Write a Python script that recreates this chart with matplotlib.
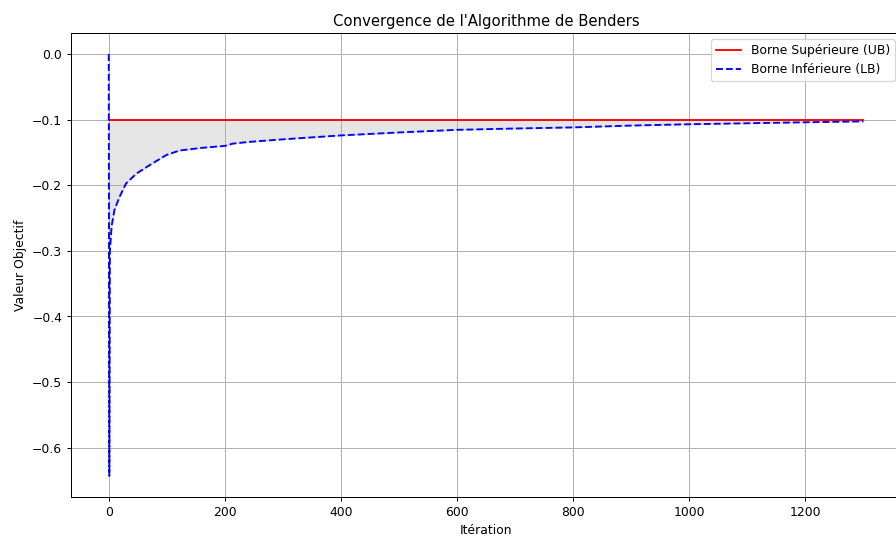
import numpy as np
import matplotlib
matplotlib.use("Agg")
import matplotlib.pyplot as plt

# Iterations and bounds
iterations = [0, 1, 2, 5, 10, 19, 30, 48, 71, 99, 122, 160, 200, 214, 240,
              300, 400, 500, 600, 700, 800, 900, 1000, 1100, 1200, 1300]
lower_bound = [0.0, -0.643, -0.300, -0.262, -0.237, -0.217, -0.197, -0.182,
               -0.169, -0.154, -0.147, -0.143, -0.140, -0.1365, -0.134,
               -0.130, -0.124, -0.1195, -0.1155, -0.1135, -0.1118, -0.109,
               -0.107, -0.1055, -0.104, -0.1026]
upper_bound = [-0.1] * len(iterations)

fig = plt.figure(figsize=(10, 6.005), dpi=89.6)
ax = fig.add_axes([71 / 896, 41 / 538, 830 / 896, 464 / 538])

ax.plot(iterations, upper_bound, color='red', linewidth=1.5, label='Borne Supérieure (UB)')
ax.plot(iterations, lower_bound, color='blue', linestyle='--', linewidth=1.5,
        label='Borne Inférieure (LB)')
ax.fill_between(iterations, upper_bound, lower_bound, color='gray', alpha=0.2)

ax.set_title("Convergence de l'Algorithme de Benders")
ax.set_xlabel('Itération')
ax.set_ylabel('Valeur Objectif')
ax.legend(loc='upper right')
ax.grid(True)

fig.savefig('out.png', dpi=89.6)
